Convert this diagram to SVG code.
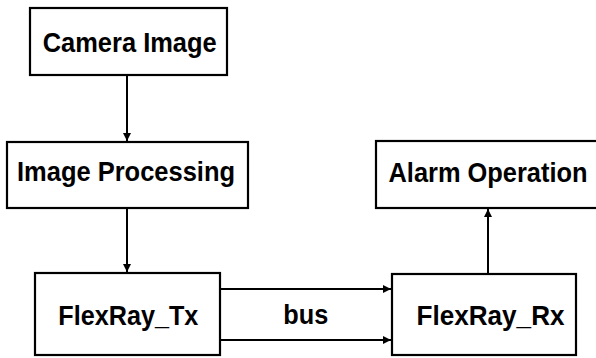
<svg xmlns="http://www.w3.org/2000/svg" width="596" height="358" viewBox="0 0 596 358">
<style>
.box{fill:#fff;stroke:#000;stroke-width:2.2}
.lbl{font-family:"Liberation Sans",Arial,sans-serif;font-weight:bold;font-size:28.5px;fill:#000}
.edge{stroke:#000;stroke-width:2;fill:none}
</style>
<defs>
<marker id="ah" viewBox="0 0 8 8" refX="8" refY="4" markerWidth="4" markerHeight="4" markerUnits="strokeWidth" orient="auto">
<path d="M0,0 L8,4 L0,8 z" fill="#000"/>
</marker>
</defs>
<rect width="596" height="358" fill="#fff"/>
<g id="connectors">
<line class="edge" x1="127" y1="75" x2="127" y2="141" marker-end="url(#ah)"/>
<line class="edge" x1="127" y1="208" x2="127" y2="272" marker-end="url(#ah)"/>
<line class="edge" x1="220" y1="289" x2="391" y2="289" marker-end="url(#ah)"/>
<line class="edge" x1="220" y1="340" x2="391" y2="340" marker-end="url(#ah)"/>
<line class="edge" x1="488" y1="274" x2="488" y2="209" marker-end="url(#ah)"/>
<text class="lbl" x="305.8" y="323.5" text-anchor="middle" textLength="45" lengthAdjust="spacingAndGlyphs">bus</text>
</g>
<g id="camera">
<rect class="box" x="30" y="8" width="197" height="67"/>
<text class="lbl" x="129.7" y="51.5" text-anchor="middle" textLength="174" lengthAdjust="spacingAndGlyphs">Camera Image</text>
</g>
<g id="processing">
<rect class="box" x="7" y="142" width="241" height="66"/>
<text class="lbl" x="126" y="181" text-anchor="middle" textLength="218" lengthAdjust="spacingAndGlyphs">Image Processing</text>
</g>
<g id="tx">
<rect class="box" x="35" y="273" width="185" height="82"/>
<text class="lbl" x="128.3" y="325" text-anchor="middle" textLength="140" lengthAdjust="spacingAndGlyphs">FlexRay_Tx</text>
</g>
<g id="rx">
<rect class="box" x="392" y="274" width="184" height="81"/>
<text class="lbl" x="490.5" y="325" text-anchor="middle" textLength="148" lengthAdjust="spacingAndGlyphs">FlexRay_Rx</text>
</g>
<g id="alarm">
<rect class="box" x="376" y="141" width="226" height="67"/>
<text class="lbl" transform="translate(488,181.5) scale(1,1.115)" x="0" y="0" text-anchor="middle" style="font-size:25.4px">Alarm Operation</text>
</g>
</svg>
